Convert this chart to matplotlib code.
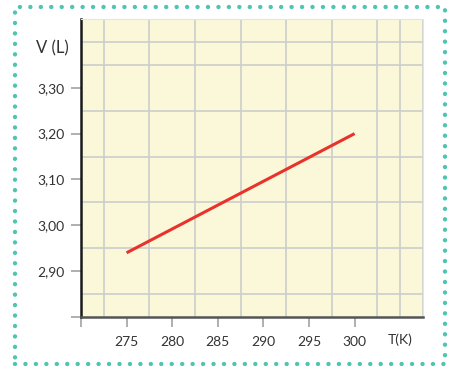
import matplotlib
matplotlib.use("Agg")
import matplotlib.pyplot as plt
from matplotlib.ticker import MultipleLocator, FixedLocator
from matplotlib.patches import Rectangle

# Data
temperature_k = [275, 300]
volume_l = [2.94, 3.20]
x_ticks = [270, 275, 280, 285, 290, 295, 300]
x_tick_labels = ["", "275", "280", "285", "290", "295", "300"]
y_ticks = [2.80, 2.90, 3.00, 3.10, 3.20, 3.30]
y_tick_labels = ["", "2,90", "3,00", "3,10", "3,20", "3,30"]
x_axis_label = "T(K)"
y_axis_label = "V (L)"

plt.rcParams['font.family'] = ['Lato', 'DejaVu Sans']

fig = plt.figure(figsize=(4.53, 3.66), dpi=100)
fig.patch.set_facecolor("white")
ax = fig.add_axes([81/453, 1-317/366, (423-81)/453, (317-19)/366])
ax.set_facecolor("#FBF8D9")

ax.set_xlim(270, 307.5)
ax.set_ylim(2.80, 3.45)

ax.xaxis.set_major_locator(FixedLocator(x_ticks))
ax.set_xticklabels(x_tick_labels)
ax.yaxis.set_major_locator(FixedLocator(y_ticks))
ax.set_yticklabels(y_tick_labels)
ax.xaxis.set_minor_locator(MultipleLocator(2.5))
ax.yaxis.set_minor_locator(MultipleLocator(0.05))

ax.grid(which="minor", color="#CDCDCD", linewidth=1.2)
ax.grid(which="major", visible=False)
ax.set_axisbelow(True)

ax.tick_params(which="minor", length=0)
ax.tick_params(which="major", length=7, width=1.1, color="#9A9A9A",
               labelsize=10, labelcolor="#333333")
ax.tick_params(axis="x", which="major", pad=7)
ax.tick_params(axis="y", which="major", pad=5)

ax.plot(temperature_k, volume_l, color="#E8322B", linewidth=2.2,
        solid_capstyle="butt", zorder=3)

for s in ["top", "right"]:
    ax.spines[s].set_color("#E4E4E4")
    ax.spines[s].set_linewidth(0.8)
ax.spines["left"].set_color("#1A1A1A")
ax.spines["left"].set_linewidth(1.8)
ax.spines["bottom"].set_color("#555555")
ax.spines["bottom"].set_linewidth(1.8)

ax.text(305, -0.055, x_axis_label, transform=ax.get_xaxis_transform(),
        ha="center", va="top", fontsize=10, color="#333333")
ax.text(-0.035, 3.385, y_axis_label, transform=ax.get_yaxis_transform(),
        ha="right", va="center", fontsize=12, color="#333333")

# dotted teal frame
frame = Rectangle((15/453, 1-364/366), (445-15)/453, (364-7)/366,
                  transform=fig.transFigure, fill=False,
                  edgecolor="#4FC5B1", linewidth=3.2,
                  linestyle=(0, (0.001, 2.35)))
frame.set_capstyle("round")
fig.add_artist(frame)

fig.savefig("out.png", dpi=100)
